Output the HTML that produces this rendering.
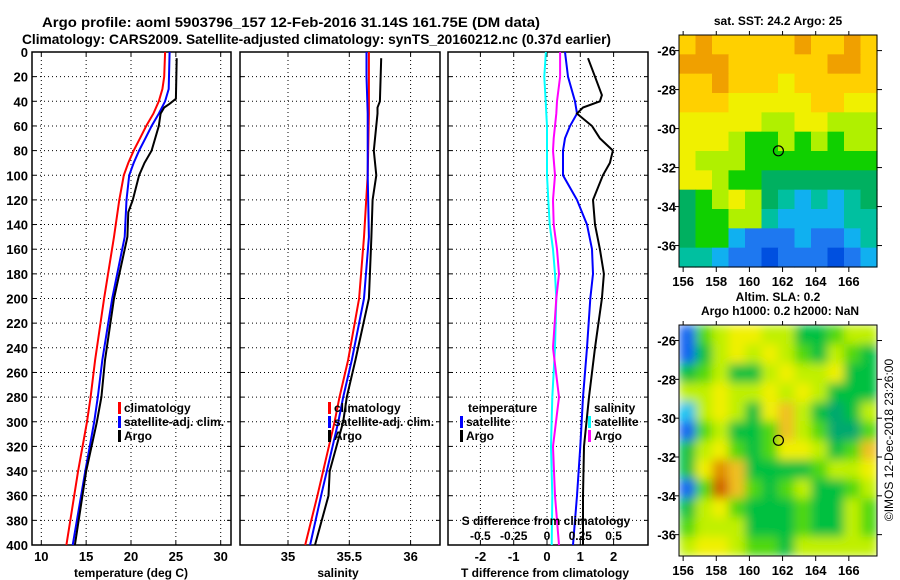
<!DOCTYPE html>
<html><head><meta charset="utf-8"><style>
html,body{margin:0;padding:0;background:#fff;}
svg{display:block;font-family:"Liberation Sans",Arial,sans-serif;font-weight:bold;}
</style></head><body>
<svg id="fig" width="900" height="580" viewBox="0 0 900 580" xmlns="http://www.w3.org/2000/svg">
<defs>
<filter id="blur" x="679" y="325" width="198" height="231" filterUnits="userSpaceOnUse"><feGaussianBlur stdDeviation="5" edgeMode="duplicate"/></filter>
<clipPath id="clipMap2"><rect x="679" y="325" width="198" height="231"/></clipPath>
</defs>
<text x="42" y="27" font-size="14" textLength="498" lengthAdjust="spacingAndGlyphs">Argo profile: aoml 5903796_157 12-Feb-2016 31.14S 161.75E (DM data)</text>
<text x="22" y="44" font-size="14" textLength="589" lengthAdjust="spacingAndGlyphs">Climatology: CARS2009. Satellite-adjusted climatology: synTS_20160212.nc (0.37d earlier)</text>
<g id="g"></g>
<text transform="translate(893,440) rotate(-90)" font-size="12" font-weight="normal" text-anchor="middle">©IMOS 12-Dec-2018 23:26:00</text>
</svg>
<script>
// ===== data =====
const depthTicks=[0,20,40,60,80,100,120,140,160,180,200,220,240,260,280,300,320,340,360,380,400];
const tTicks=[10,15,20,25,30];
const sTicks=[35,35.5,36];
const sTickLabels=["35","35.5","36"];
const dTTicks=[-2,-1,0,1,2];
const dSTickLabels=["-0.5","-0.25","0","0.25","0.5"];
const dSTicks=[-0.5,-0.25,0,0.25,0.5];

const tClimDepth=[0,20,30,40,50,60,70,80,90,100,120,150,200,250,280,300,340,400];
const tClim=[23.8,23.7,23.5,23.1,22.5,21.7,21.0,20.3,19.7,19.2,18.7,18.1,17.0,16.0,15.5,15.1,14.1,12.8];
const tSatDepth=[0,30,40,50,60,70,80,90,100,120,150,200,250,280,300,340,400];
const tSat=[24.3,24.2,23.8,23.1,22.3,21.6,20.9,20.3,19.8,19.5,19.3,17.9,16.8,16.3,15.9,14.9,13.5];
const tArgoDepth=[5,38,42,45,50,60,70,80,90,100,120,130,150,200,250,280,300,340,400];
const tArgo=[25.1,25.0,24.3,23.7,23.3,23.1,22.7,22.3,21.5,20.9,20.2,19.7,19.6,18.1,17.1,16.7,16.2,15.0,13.75];

const sClimDepth=[0,50,100,150,200,250,280,300,360,400];
const sClim=[35.66,35.66,35.65,35.62,35.58,35.49,35.42,35.38,35.24,35.14];
const sSatDepth=[0,20,50,100,150,200,250,280,300,360,400];
const sSat=[35.64,35.64,35.65,35.65,35.66,35.62,35.52,35.45,35.41,35.27,35.18];
const sArgoDepth=[5,40,45,50,80,100,120,150,200,250,280,300,340,360,400];
const sArgo=[35.76,35.75,35.73,35.73,35.70,35.72,35.69,35.68,35.66,35.55,35.48,35.45,35.34,35.33,35.22];

const dDepth=[0,20,40,50,60,70,80,100,120,140,160,180,200,240,280,320,360,400];
const dTSat=[0.54,0.63,0.84,0.9,0.69,0.54,0.48,0.48,0.9,1.2,1.35,1.38,1.3,1.2,1.08,1.0,0.9,0.78];
const dTArgoDepth=[5,20,35,40,45,50,60,70,80,90,100,120,140,160,180,200,240,280,320,360,400];
const dTArgo=[1.23,1.44,1.65,1.59,1.08,0.9,1.35,1.59,1.98,1.89,1.68,1.38,1.44,1.59,1.71,1.65,1.44,1.26,1.11,1.08,1.08];
const dSSat=[-0.008,-0.02,-0.01,-0.005,0,0,0,0,0.01,0.02,0.045,0.06,0.07,0.06,0.04,0.03,0.04,0.035];
const dSArgo=[0.098,0.098,0.075,0.07,0.06,0.05,0.045,0.06,0.045,0.05,0.075,0.09,0.07,0.045,0.09,0.045,0.06,0.09];

// maps
const lonTicks=[156,158,160,162,164,166];
const latTicks=[-26,-28,-30,-32,-34,-36];
const argoLon=161.75, argoLat=-31.14;
const sstGrid=[
[9,10,9,9,9,9,9,10,9,9,10,9],
[10,10,10,9,9,9,9,9,9,10,10,9],
[9,9,10,9,9,9,8,9,9,9,9,9],
[9,9,9,8,8,8,8,8,9,9,8,8],
[8,8,8,8,8,7,7,8,8,7,7,7],
[8,8,8,7,6,6,7,6,7,6,7,7],
[8,7,7,7,6,6,6,6,6,6,6,6],
[8,8,7,6,6,5,5,5,5,5,5,5],
[5,6,7,8,7,5,4,3,4,3,4,5],
[5,6,6,7,7,4,3,3,3,3,4,4],
[5,6,6,3,2,2,2,3,2,2,3,4],
[4,4,3,2,2,1,2,2,2,1,2,3]];
const sstColors=["#000000","#0050e0","#1e78f0","#10b0f0","#00c0a0","#00b060","#10d000","#b0f000","#f0f000","#ffd000","#f0a000"];
const slaGrid=[
[0,4,5,6,6,5,5,3,3,4,5,5],
[0,3,5,6,5,6,5,4,3,5,4,3],
[3,4,5,3,3,5,6,5,5,6,3,3],
[5,5,6,5,5,6,5,6,5,3,3,3],
[1,5,6,5,3,6,7,5,3,2,3,5],
[0,4,5,3,3,4,7,5,4,2,2,4],
[3,5,6,4,3,4,6,6,5,3,4,7],
[3,6,8,7,3,3,3,3,4,5,5,6],
[0,4,9,7,4,3,4,5,3,3,4,5],
[3,5,6,4,3,3,3,4,3,3,5,4],
[4,5,5,5,3,3,3,4,3,3,5,4],
[5,6,6,5,4,4,3,5,5,5,5,5]];
const slaColors=["#1060f0","#00c0f0","#00a870","#00c040","#50d810","#c0f000","#f0f000","#f0c020","#e09000","#d06000"];

// ===== drawing =====
const NS="http://www.w3.org/2000/svg";
const G=document.getElementById('g');
function el(tag,attrs,parent){const e=document.createElementNS(NS,tag);for(const k in attrs)e.setAttribute(k,attrs[k]);(parent||G).appendChild(e);return e;}
const Y0=52,Y1=545;
const yD=d=>Y0+d*(Y1-Y0)/400;
const xT=t=>41.3+(t-10)*8.97;
const xS=s=>288+(s-35)*122.6;
const xDT=v=>547+v*33.3;
const xDS=v=>547+v*133.2;

function panel(name,x0,x1,gx,labelsY){
  const p=el('g',{});
  
  
  gx.forEach(x=>{const l=el('line',{x1:x,x2:x,y1:Y0,y2:Y1,stroke:'#000','stroke-width':1,'stroke-dasharray':'1,3'},p);
    });
  depthTicks.forEach(d=>{const y=yD(d);
    if(d>0&&d<400){const l=el('line',{x1:x0,x2:x1,y1:y,y2:y,stroke:'#000','stroke-width':1,'stroke-dasharray':'1,3'},p);
    }
    el('line',{x1:x0,x2:x0+4,y1:y,y2:y,stroke:'#000'},p);el('line',{x1:x1-4,x2:x1,y1:y,y2:y,stroke:'#000'},p);
    if(labelsY){const t=el('text',{x:28,y:y+5,'font-size':13,'text-anchor':'end'},p);t.textContent=d;
      }
  });
  gx.forEach(x=>{el('line',{x1:x,x2:x,y1:Y1,y2:Y1-4,stroke:'#000'},p);el('line',{x1:x,x2:x,y1:Y0,y2:Y0+4,stroke:'#000'},p);});
  const r=el('rect',{x:x0,y:Y0,width:x1-x0,height:Y1-Y0,fill:'none',stroke:'#000','stroke-width':1.5},p);
  
  return p;
}
function line(p,xs,ys,xf,color,name){
  const d=xs.map((v,i)=>(i?'L':'M')+xf(v).toFixed(1)+','+yD(ys[i]).toFixed(1)).join('');
  const e=el('path',{d:d,fill:'none',stroke:color,'stroke-width':2},p);
  
  
}
function txt(p,x,y,s,size,anchor,name){const t=el('text',{x:x,y:y,'font-size':size||13,'text-anchor':anchor||'start'},p);t.textContent=s;
  return t;}
function legend(p,x,y,color,label,name){
  const r=el('rect',{x:x,y:y-10,width:3,height:12,fill:color},p);
  
  txt(p,x+6,y,label,12,'start',name);
}

// panel 1
const p1=panel('temperature-panel',32,231,tTicks.map(xT),true);
line(p1,tClim,tClimDepth,xT,'#f00','temperature-climatology-line');
line(p1,tSat,tSatDepth,xT,'#00f','temperature-satellite-line');
line(p1,tArgo,tArgoDepth,xT,'#000','temperature-argo-line');
tTicks.forEach(t=>txt(p1,xT(t),561,String(t),13,'middle','temperature-tick-label'));
txt(p1,131,577,'temperature (deg C)',12,'middle','x-axis-title-temperature');
legend(p1,118,412,'#f00','climatology','legend-climatology');
legend(p1,118,426,'#00f','satellite-adj. clim.','legend-satellite-adj');
legend(p1,118,440,'#000','Argo','legend-argo');

// panel 2
const p2=panel('salinity-panel',240,440,sTicks.map(xS),false);
line(p2,sClim,sClimDepth,xS,'#f00','salinity-climatology-line');
line(p2,sSat,sSatDepth,xS,'#00f','salinity-satellite-line');
line(p2,sArgo,sArgoDepth,xS,'#000','salinity-argo-line');
sTicks.forEach((s,i)=>txt(p2,xS(s),561,sTickLabels[i],13,'middle','salinity-tick-label'));
txt(p2,338,577,'salinity',12,'middle','x-axis-title-salinity');
legend(p2,328,412,'#f00','climatology','legend-climatology-s');
legend(p2,328,426,'#00f','satellite-adj. clim.','legend-satellite-adj-s');
legend(p2,328,440,'#000','Argo','legend-argo-s');

// panel 3
const p3=panel('difference-panel',448,648,dTTicks.map(xDT),false);
line(p3,dSSat,dDepth,xDS,'#0ff','salinity-diff-satellite-line');
line(p3,dSArgo,dDepth,xDS,'#f0f','salinity-diff-argo-line');
line(p3,dTSat,dDepth,xDT,'#00f','temperature-diff-satellite-line');
line(p3,dTArgo,dTArgoDepth,xDT,'#000','temperature-diff-argo-line');
dTTicks.forEach(v=>txt(p3,xDT(v),561,String(v),13,'middle','t-diff-tick-label'));
dSTicks.forEach((v,i)=>txt(p3,xDS(v),540,dSTickLabels[i],12,'middle','s-diff-tick-label'));
txt(p3,546,525,'S difference from climatology',12,'middle','s-diff-axis-title');
txt(p3,545,577,'T difference from climatology',12,'middle','x-axis-title-t-diff');
txt(p3,468,412,'temperature',12,'start','legend-title-temperature');
legend(p3,460,426,'#00f','satellite','legend-t-satellite');
legend(p3,460,440,'#000','Argo','legend-t-argo');
txt(p3,594,412,'salinity',12,'start','legend-title-salinity');
legend(p3,588,426,'#0ff','satellite','legend-s-satellite');
legend(p3,588,440,'#f0f','Argo','legend-s-argo');

// maps
function map(name,x0,y0,w,h,grid,colors,lonA,lonB,latA,latB,blur,title1,title2){
  const m=el('g',{});
  
  
  const mx=lon=>x0+(lon-lonA)/(lonB-lonA)*w;
  const my=lat=>y0+(-lat-latA)/(latB-latA)*h;
  const cells=el('g',blur?{'clip-path':'url(#clipMap2)'}:{},m);
  const inner=el('g',blur?{filter:'url(#blur)'}:{},cells);
  const nr=grid.length,nc=grid[0].length,cw=w/nc,ch=h/nr;
  grid.forEach((row,r)=>row.forEach((v,c)=>{
    const rc=el('rect',{x:x0+c*cw,y:y0+r*ch,width:cw+0.6,height:ch+0.6,fill:colors[v]},inner);
    
    
  }));
  const f=el('rect',{x:x0,y:y0,width:w,height:h,fill:'none',stroke:'#000','stroke-width':1},m);
  
  lonTicks.forEach(l=>{const x=mx(l);el('line',{x1:x,x2:x,y1:y0+h,y2:y0+h+5,stroke:'#000'},m);el('line',{x1:x,x2:x,y1:y0,y2:y0-4,stroke:'#000'},m);
    txt(m,x,y0+h+19,String(l),13,'middle','map-lon-label');});
  latTicks.forEach(l=>{const y=my(l);el('line',{x1:x0,x2:x0-4,y1:y,y2:y,stroke:'#000'},m);el('line',{x1:x0+w,x2:x0+w+5,y1:y,y2:y,stroke:'#000'},m);
    txt(m,x0-3,y+5,String(l),13,'end','map-lat-label');});
  const c=el('circle',{cx:mx(argoLon),cy:my(argoLat),r:5,fill:'none',stroke:'#000','stroke-width':1.2},m);
  
  txt(m,x0+w/2,title2?y0-24:y0-10,title1,12,'middle','map-title');
  if(title2)txt(m,x0+w/2+2,y0-10,title2,12,'middle','map-subtitle');
}
map('sst-map',679,35,198,232,sstGrid,sstColors,155.75,167.7,25.2,37.1,false,'sat. SST: 24.2 Argo: 25',null);
map('sla-map',679,325,198,231,slaGrid,slaColors,155.75,167.7,25.2,37.1,true,'Altim. SLA: 0.2','Argo h1000: 0.2 h2000: NaN');
</script>
</body></html>
